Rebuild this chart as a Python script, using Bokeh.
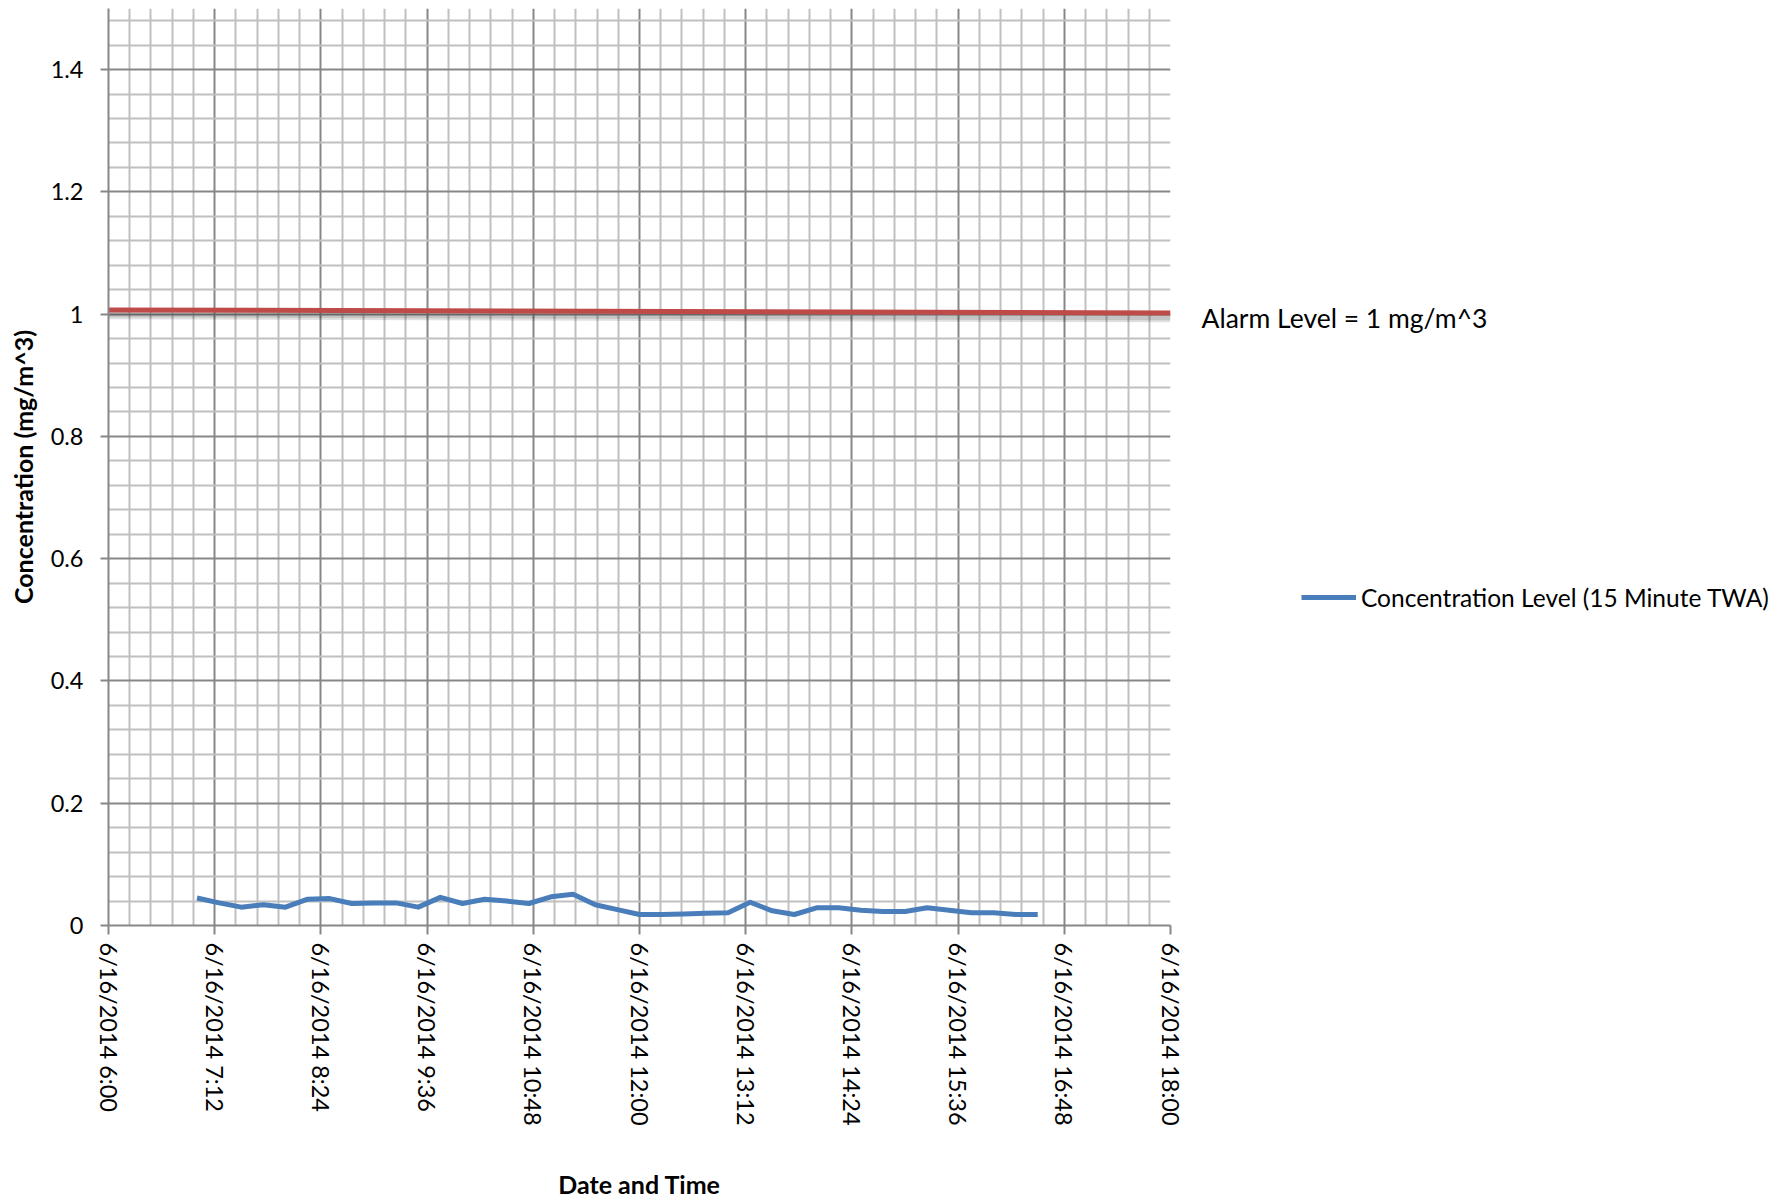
from bokeh.plotting import figure
from bokeh.layouts import row
from bokeh.models import (FixedTicker, Range1d, Legend, LegendItem, Label, ColumnDataSource)
from bokeh.embed import file_html
from bokeh.resources import INLINE

# ---- data ----
times = ["7:00", "7:15", "7:30", "7:45", "8:00", "8:15", "8:30", "8:45", "9:00", "9:15",
         "9:30", "9:45", "10:00", "10:15", "10:30", "10:45", "11:00", "11:15", "11:30", "11:45",
         "12:00", "12:15", "12:30", "12:45", "13:00", "13:15", "13:30", "13:45", "14:00", "14:15",
         "14:30", "14:45", "15:00", "15:15", "15:30", "15:45", "16:00", "16:15", "16:30"]
concentration = [0.045, 0.037, 0.030, 0.034, 0.030, 0.043, 0.044, 0.036, 0.037, 0.037,
                 0.030, 0.046, 0.036, 0.043, 0.040, 0.036, 0.047, 0.051, 0.034, 0.026,
                 0.018, 0.018, 0.019, 0.020, 0.021, 0.038, 0.024, 0.018, 0.029, 0.029,
                 0.025, 0.023, 0.023, 0.029, 0.025, 0.021, 0.021, 0.018, 0.018]
alarm_times = ["6:00", "18:00"]
alarm_values = [1.007, 1.002]

x_tick_times = ["6:00", "7:12", "8:24", "9:36", "10:48", "12:00", "13:12", "14:24", "15:36", "16:48", "18:00"]
x_tick_labels = ["6/16/2014 " + t for t in x_tick_times]
y_ticks = [0.0, 0.2, 0.4, 0.6, 0.8, 1.0, 1.2, 1.4]
y_tick_labels = ["0", "0.2", "0.4", "0.6", "0.8", "1", "1.2", "1.4"]

series_label = "Concentration Level (15 Minute TWA)"
alarm_label = "Alarm Level = 1 mg/m^3"
x_title = "Date and Time"
y_title = "Concentration (mg/m^3)"


def to_hours(t):
    h, m = t.split(":")
    return int(h) + int(m) / 60.0


x = [to_hours(t) for t in times]
ax = [to_hours(t) for t in alarm_times]
x_ticks = [to_hours(t) for t in x_tick_times]

FONT = "Lato"
GRID_MAJOR = "#878787"
GRID_MINOR = "#c0c0c0"
BLUE = "#4a7ebb"
RED = "#be4b48"
H = 1201

p = figure(width=1185, height=H, output_backend="svg", toolbar_location=None,
           x_range=Range1d(6, 18), y_range=Range1d(0, 1.5),
           min_border_left=108, min_border_right=15, min_border_top=8, min_border_bottom=H - 932)
p.outline_line_color = None
p.background_fill_color = "white"

# minor tick positions (5 subdivisions of each major interval)
x_minor = []
for i in range(len(x_ticks) - 1):
    step = (x_ticks[i + 1] - x_ticks[i]) / 5
    x_minor += [x_ticks[i] + k * step for k in range(1, 5)]
y_minor = []
for i in range(len(y_ticks)):
    step = 0.2 / 5
    y_minor += [y_ticks[i] + k * step for k in range(1, 5) if y_ticks[i] + k * step < 1.5]

p.xaxis.ticker = FixedTicker(ticks=x_ticks, minor_ticks=x_minor)
p.yaxis.ticker = FixedTicker(ticks=y_ticks, minor_ticks=y_minor)
p.xaxis.major_label_overrides = {t: l for t, l in zip(x_ticks, x_tick_labels)}
p.yaxis.major_label_overrides = {t: l for t, l in zip(y_ticks, y_tick_labels)}

for g in (p.xgrid, p.ygrid):
    g.grid_line_color = GRID_MAJOR
    g.grid_line_width = 2
    g.minor_grid_line_color = GRID_MINOR
    g.minor_grid_line_width = 2

for a in (p.xaxis, p.yaxis):
    a.axis_line_color = GRID_MAJOR
    a.axis_line_width = 2
    a.major_tick_line_color = GRID_MAJOR
    a.major_tick_line_width = 2
    a.major_tick_in = 0
    a.minor_tick_in = 0
    a.minor_tick_out = 0
    a.major_label_text_font = FONT
    a.major_label_text_font_size = "23.5px"
    a.major_label_text_color = "black"
    a.axis_label_text_font = FONT
    a.axis_label_text_font_size = "25px"
    a.axis_label_text_font_style = "bold"
    a.axis_label_text_color = "black"

p.xaxis.major_tick_out = 9
p.xaxis.major_label_orientation = "vertical"
p.xaxis.major_label_standoff = 8
p.xaxis.axis_label = x_title
p.xaxis.axis_label_standoff = 40

p.yaxis.major_tick_out = 8
p.yaxis.major_label_standoff = 17
p.yaxis.axis_label = y_title
p.yaxis.axis_label_standoff = 10

# alarm line with soft shadow
p.extra_y_ranges = {"shadow": Range1d(0.008, 1.508)}
p.line(ax, alarm_values, y_range_name="shadow", line_color="#000000", line_alpha=0.12, line_width=9)
p.line(ax, alarm_values, y_range_name="shadow", line_color="#000000", line_alpha=0.12, line_width=5)
p.line(ax, alarm_values, line_color=RED, line_width=5)

src = ColumnDataSource(dict(x=x, y=concentration))
p.line("x", "y", source=src, line_color=BLUE, line_width=5, line_join="round")

# side panel holding the legend and the alarm annotation
p2 = figure(width=600, height=H, output_backend="svg", toolbar_location=None,
            x_range=Range1d(0, 1), y_range=Range1d(0, 1), min_border=0,
            x_axis_location=None, y_axis_location=None)
p2.outline_line_color = None
p2.xgrid.visible = False
p2.ygrid.visible = False
r2 = p2.line("x", "y", source=src, line_color=BLUE, line_width=5)

legend = Legend(items=[LegendItem(label=series_label, renderers=[r2])],
                location=(116, 312), padding=0, margin=0, spacing=0,
                glyph_width=55, glyph_height=32, label_standoff=5,
                label_text_font=FONT, label_text_font_size="24.5px", label_text_color="black",
                border_line_color=None, background_fill_alpha=0)
p2.add_layout(legend, "center")

lab = Label(x=16, y=608, x_units="screen", y_units="screen", text=alarm_label,
            text_font=FONT, text_font_size="26.5px", text_color="black", text_baseline="middle")
p2.add_layout(lab)

layout = row(p, p2)
open("out.html", "w").write(file_html(layout, INLINE))
